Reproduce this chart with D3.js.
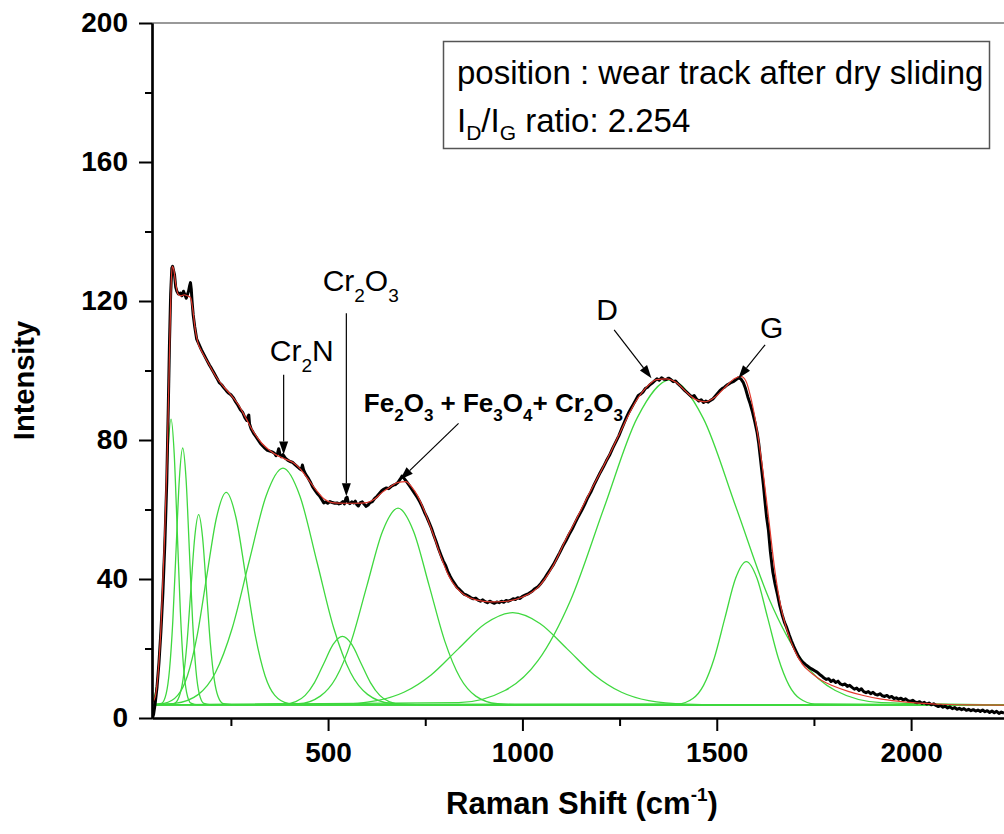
<!DOCTYPE html>
<html>
<head>
<meta charset="utf-8">
<script src="https://cdn.jsdelivr.net/npm/d3@7"></script>
<style>
  body { margin: 0; background: #fff; }
  text { font-family: Arial, "Liberation Sans", sans-serif; }
</style>
</head>
<body>
<svg id="chart"></svg>
<script>
// measured spectrum (Raman shift, intensity)
const shift = [48,51,55,60,65,70,75,80,85,89,92,95,98,100,102,105,108,111,115,120,124,128,131,135,138,141,144,146,148,150,
  153,157,162,168,174,181,188,195,200,207,214,220,226,232,238,244,250,256,262,268,274,280,286,291,294,296,298,302,308,314,
  320,326,332,338,344,350,356,362,366,370,373,376,380,384,390,396,402,408,414,420,426,431,434,437,442,448,454,460,466,472,
  478,484,489,494,499,505,511,517,523,528,533,538,542,546,549,552,556,561,566,570,574,578,583,588,593,598,603,608,614,620,
  626,632,638,644,650,656,662,668,674,680,686,690,694,698,702,707,712,718,724,730,736,742,748,754,760,766,772,778,784,790,
  796,802,808,814,820,826,832,838,844,850,856,862,868,874,880,886,892,898,904,910,916,922,928,934,940,946,952,958,964,970,
  976,982,988,994,1000,1008,1016,1024,1032,1040,1048,1056,1064,1072,1080,1088,1096,1104,1112,1120,1128,1136,1144,1152,1160,1168,1176,1184,1192,1200,
  1208,1216,1224,1232,1240,1248,1256,1262,1268,1274,1280,1286,1292,1298,1304,1310,1316,1322,1328,1334,1340,1346,1352,1358,1364,1370,1376,1382,1388,1394,
  1400,1406,1412,1418,1424,1430,1436,1442,1448,1454,1460,1466,1472,1478,1484,1490,1496,1502,1508,1514,1520,1526,1532,1538,1544,1550,1556,1562,1568,1574,
  1580,1586,1592,1598,1604,1608,1612,1616,1620,1624,1628,1633,1638,1644,1650,1656,1662,1668,1674,1680,1686,1692,1698,1704,1710,1716,1722,1728,1734,1740,
  1746,1752,1758,1764,1770,1776,1782,1788,1794,1800,1806,1812,1818,1824,1830,1836,1842,1848,1854,1860,1866,1872,1878,1884,1890,1896,1902,1908,1914,1920,
  1926,1932,1938,1944,1950,1956,1962,1968,1974,1980,1986,1992,1998,2004,2010,2016,2022,2028,2034,2040,2046,2052,2058,2064,2070,2076,2082,2088,2094,2100,
  2106,2112,2118,2124,2130,2136,2142,2148,2154,2160,2166,2172,2178,2184,2190,2196,2202,2208,2214,2220,2226,2232,2239];
const intensity = [0,1,4,9,16,25,36,50,68,90,108,122,129.5,130,129,127.5,124,122.8,122,122.3,121.5,122.8,122,120.8,121.8,122.8,124.5,125.3,123.5,120,
  116,112.5,109,107.5,106,104.5,103,101.5,100.6,99.2,97.8,96.5,95.9,95,94.2,93.5,93,92.2,91,90,88.8,88,86.4,85.6,86.8,87.2,84.6,83.2,82,81,
  80,79,78.3,77.6,77,76.8,76.6,76.2,75.5,76.2,77.5,76,75.2,75.8,74.8,74.2,73.8,73.6,73,72.4,71.8,71.4,72.8,71.4,70.2,69.2,68,66.6,65.6,64.6,
  63.9,62.8,61.9,62.2,61.8,62.3,62,61.8,61.9,61.6,61.8,62.3,61.6,63.3,63.5,62,61.7,62.2,61.9,62.4,61.4,61,62,62.2,61.5,60.9,61.3,62,62.3,63.2,
  63.8,64.6,65.4,65.9,66.2,66,66.6,67,67.2,67.8,68.8,69.6,69.2,68.6,68,67.2,66.4,65.4,64.4,63.4,62.2,60.8,59.2,57.8,56.2,54.6,52.6,50.8,48.8,47,
  45.3,44,42.2,40.8,39.6,38.6,37.6,37,36.3,35.6,35.4,35,34.6,34.3,34.5,33.9,33.6,34,33.5,33.2,33.6,33.3,33,33.4,33.2,33.6,33.3,33.8,33.6,33.9,
  34.3,34.1,34.6,34.4,35,35.4,35.8,36.4,37.2,37.8,38.8,40,41.4,42.8,44.2,45.9,47.6,49.4,51,52.8,54.4,56.2,58,59.6,61.4,63.4,65,67,68.8,70.6,
  72.2,74,75.6,77.6,79.4,81.2,83.4,85,86.6,88,89.2,90.4,91.6,92.8,93.2,93.8,94.8,95.2,95.9,96.4,97,97.6,97.2,97.9,97.5,97.4,97.8,97.4,96.8,97,
  96.2,95.6,94.9,94.2,93.6,93,92.4,92.8,91.8,91.2,91.6,90.8,91.2,90.9,91.4,91.8,92.6,93.4,94.2,94.8,95.2,95.8,96.2,96.6,96.9,97.4,97.9,97.6,96.6,94.8,
  92.4,90.4,88,85.2,82,79,75,71,67,62.4,58,54,47.8,42.2,38.6,35.6,32.4,29.8,27.6,26,24,22.2,20.6,19.2,17.8,16.8,16,15.4,14.9,14.4,
  14,13.6,13.2,12.6,12.1,11.5,11.1,11.3,10.5,10.9,10.2,10.6,9.8,9.5,9.8,9.1,9.4,8.8,8.3,8.6,7.9,8.4,7.6,7.3,7.6,7,7.4,6.8,6.6,7,
  6.4,6.2,6.5,5.9,6.2,5.6,5.8,5.4,5.7,5.2,5.5,5,4.8,5.1,4.6,4.4,4.7,4.2,4.5,4,4.3,3.8,4.1,3.6,3.3,3.6,3.1,3.4,2.9,3.2,
  2.7,3,2.5,2.8,2.4,2.7,2.2,2.5,2.1,2.4,2,2.3,1.9,2.3,1.8,2.1,1.6,2,1.5,1.9,1.3,1.7,1.4];

// cumulative fit (red)
const fitShift = [47,55,62,70,78,86,92,96,99,103,108,114,122,130,138,146,152,158,165,175,190,210,230,250,270,290,310,330,350,370,
  390,410,430,450,470,490,510,540,570,600,620,640,660,680,700,715,730,750,770,790,810,830,850,880,920,960,1000,1040,1080,1110,
  1140,1170,1200,1230,1260,1290,1320,1345,1370,1395,1420,1445,1470,1495,1520,1545,1562,1575,1590,1605,1620,1635,1650,1665,1680,1700,1720,1745,1770,1800,
  1840,1880,1920,1970,2020,2080,2150,2239];
const fitIntensity = [4.4,6,12,26,48,75,105,124,130,129,125,122,121.5,121.8,121.5,121,117.5,112,108,105.5,102.5,98.5,95.5,93,90,86,82,79,77,75.5,
  74.5,73.5,71.5,68.5,65.5,63,62,61.8,61.8,62,63,65,66.5,67.8,68,66.5,64,59,53,46.5,41,37.5,35.5,34,33.4,33.6,34.8,37.6,44,51,
  57.5,64.2,70.6,77.2,84.2,90.8,95.3,97.4,97.6,96.6,94,91.7,91,92.3,95,97.6,98.3,97,91,82,70,56,42,32,25.5,19.5,15.5,12.8,10.8,9.2,
  7.6,6.4,5.5,4.8,4.3,3.95,3.75,3.7];

// fitted components (green), read as [shift, intensity] outlines
const baseline = [[47, 3.8], [2239, 3.8]];
const p1 = [[47,4.6],[56,7.4],[64,14.9],[72,30.5],[80,53.7],[88,76.3],[96,86],[104,76.3],[112,53.7],[120,30.5],[128,14.9],[136,7.4],[147,4.3],[165,3.8],[2239,3.8]];
const p2 = [[47,3.8],[71.6,4.2],[83.5,7],[92,13.8],[100.5,27.8],[109,48.6],[117.5,69],[126,77.7],[134.5,69],[143,48.6],[151.5,27.8],[160,13.8],[168.5,7],[180.4,4.2],[200,3.8],[2239,3.8]];
const p3 = [[47,3.8],[103,4.1],[117,6.2],[127,11.2],[137,21.6],[147,37],[157,52.1],[167,58.5],[177,52.1],[187,37],[197,21.6],[207,11.2],[217,6.2],[231,4.1],[260,3.8],[2239,3.8]];
const p4 = [[47,3.85],[78,4.2],[113,6.5],[138,12.1],[163,23.6],[188,40.9],[213,57.7],[238,64.9],[263,57.7],[288,40.9],[313,23.6],[338,12.1],[363,6.5],[398,4.2],[440,3.8],[2239,3.8]];
const p5 = [[47,3.83],[105.6,4.2],[166.5,6.8],[210,13],[253.5,25.9],[297,45.1],[340.5,63.9],[384,71.9],[427.5,63.9],[471,45.1],[514.5,25.9],[558,13],[601.5,6.8],[662.4,4.2],[750,3.8],[2239,3.8]];
const p6 = [[47,3.8],[383.4,3.9],[417,4.7],[441,6.5],[465,10.2],[489,15.7],[513,21.2],[537,23.5],[561,21.2],[585,15.7],[609,10.2],[633,6.5],[657,4.7],[690.6,3.9],[760,3.8],[2239,3.8]];
const p7 = [[47,3.8],[424,4.1],[480,6.3],[520,11.5],[560,22.2],[600,38.1],[640,53.7],[680,60.4],[720,53.7],[760,38.1],[800,22.2],[840,11.5],[880,6.3],[936,4.1],[1000,3.8],[2239,3.8]];
const p8 = [[47,3.8],[527,3.96],[625,5],[695,7.4],[765,12.4],[835,19.9],[905,27.2],[975,30.3],[1045,27.2],[1115,19.9],[1185,12.4],[1255,7.4],[1325,5],[1423,3.96],[1500,3.8],[2239,3.8]];
const pD = [[47,3.8],[836,4.4],[955,7.9],[1040,16.5],[1125,34.2],[1210,60.5],[1295,86.3],[1380,97.3],[1465,86.3],[1550,60.5],[1635,34.2],[1720,16.5],[1805,7.9],[1924,4.4],[2239,3.8]];
const pG = [[47,3.8],[1400,4.05],[1438.5,5.6],[1466,9.4],[1493.5,17.2],[1521,28.8],[1548.5,40.2],[1576,45],[1603.5,40.2],[1631,28.8],[1658.5,17.2],[1686,9.4],[1713.5,5.6],[1752,4.05],[2239,3.8]];

const yTicks = [0, 40, 80, 120, 160, 200];
const yMinor = [20, 60, 100, 140, 180];
const xTicks = [500, 1000, 1500, 2000];
const xMinor = [250, 750, 1250, 1750];

// annotations: label anchor (shift, intensity) and arrow tail -> tip
const notes = [
  { parts: [["Cr", 0], ["2", 1], ["N", 0]], x: 350, y: 102.6, bold: false, tail: [385.7, 98.8], tip: [385.7, 75.8] },
  { parts: [["Cr", 0], ["2", 1], ["O", 0], ["3", 1]], x: 486, y: 122.8, bold: false, tail: [547, 116.5], tip: [547, 63.8] },
  { parts: [["Fe", 0], ["2", 1], ["O", 0], ["3", 1], [" + Fe", 0], ["3", 1], ["O", 0], ["4", 1], ["+ Cr", 0], ["2", 1], ["O", 0], ["3", 1]],
    x: 592, y: 88, bold: true, tail: [835.7, 84.8], tip: [685.8, 68.6] },
  { parts: [["D", 0]], x: 1190, y: 114.6, bold: false, tail: [1236, 111.7], tip: [1332, 97.8] },
  { parts: [["G", 0]], x: 1611.5, y: 109.4, bold: false, tail: [1624.3, 107.4], tip: [1555.7, 97.8] }
];

const width = 1004;
const height = 834;
const margin = { top: 23, right: 0, bottom: 116, left: 152 };

const svg = d3.select("#chart")
  .attr("width", width)
  .attr("height", height);

const x = d3.scaleLinear()
  .domain([47, 2239])
  .range([margin.left, width - margin.right]);
const y = d3.scaleLinear()
  .domain([0, 200])
  .range([height - margin.bottom, margin.top]);

// clip for the plot area
svg.append("clipPath").attr("id", "plot")
  .append("rect")
  .attr("x", margin.left).attr("y", margin.top - 2)
  .attr("width", width - margin.left).attr("height", height - margin.bottom - margin.top + 6);

const line = d3.line()
  .x(d => x(d[0]))
  .y(d => y(d[1]))
  .curve(d3.curveMonotoneX);

const g = svg.append("g").attr("clip-path", "url(#plot)");

// green components
[baseline, p1, p2, p3, p4, p5, p6, p7, p8, pD, pG].forEach(function(p) {
  g.append("path")
    .datum(p)
    .attr("fill", "none")
    .attr("stroke", "#3fd83f")
    .attr("stroke-width", 1.3)
    .attr("d", line);
});

// measured data
g.append("path")
  .datum(d3.zip(shift, intensity))
  .attr("fill", "none")
  .attr("stroke", "#000")
  .attr("stroke-width", 3)
  .attr("stroke-linejoin", "round")
  .attr("d", d3.line().x(d => x(d[0])).y(d => y(d[1])));

// fit
g.append("path")
  .datum(d3.zip(fitShift, fitIntensity))
  .attr("fill", "none")
  .attr("stroke", "#e23a2e")
  .attr("stroke-width", 1.2)
  .attr("d", line);

// top frame line
svg.append("line")
  .attr("x1", margin.left).attr("x2", width)
  .attr("y1", y(200)).attr("y2", y(200))
  .attr("stroke", "#777")
  .attr("stroke-width", 1.5);

// axes
svg.append("g")
  .attr("transform", `translate(${margin.left},0)`)
  .call(d3.axisLeft(y).tickValues(yTicks).tickSize(13).tickPadding(11).tickSizeOuter(0));
svg.append("g")
  .attr("transform", `translate(${margin.left},0)`)
  .call(d3.axisLeft(y).tickValues(yMinor).tickSize(7).tickFormat("").tickSizeOuter(0));

svg.append("g")
  .attr("transform", `translate(0,${y(0)})`)
  .call(d3.axisBottom(x).tickValues(xTicks).tickFormat(d3.format("d")).tickSize(13).tickPadding(11).tickSizeOuter(0));
svg.append("g")
  .attr("transform", `translate(0,${y(0)})`)
  .call(d3.axisBottom(x).tickValues(xMinor).tickSize(8).tickFormat("").tickSizeOuter(0));

svg.selectAll(".domain").attr("stroke", "#000").attr("stroke-width", 2.2);
svg.selectAll(".tick line").attr("stroke", "#000").attr("stroke-width", 2);
svg.selectAll(".tick text")
  .attr("font-family", "Arial, 'Liberation Sans', sans-serif")
  .attr("font-size", 28)
  .attr("font-weight", "bold")
  .attr("fill", "#000");

// axis titles
svg.append("text")
  .attr("transform", `translate(34,${(y(0) + y(200)) / 2 + 10}) rotate(-90)`)
  .attr("text-anchor", "middle")
  .attr("font-size", 29)
  .attr("font-weight", "bold")
  .text("Intensity");

const xt = svg.append("text")
  .attr("x", 582)
  .attr("y", 814)
  .attr("text-anchor", "middle")
  .attr("font-size", 31)
  .attr("font-weight", "bold");
xt.append("tspan").text("Raman Shift (cm");
xt.append("tspan").attr("font-size", 19).attr("dy", -13).text("-1");
xt.append("tspan").attr("dy", 13).text(")");

// info box
svg.append("rect")
  .attr("x", 443.5).attr("y", 41.5)
  .attr("width", 546).attr("height", 107)
  .attr("fill", "#fff")
  .attr("stroke", "#555")
  .attr("stroke-width", 1.5);
svg.append("text")
  .attr("x", 457).attr("y", 84)
  .attr("font-size", 33)
  .text("position : wear track after dry sliding");
const ratio = svg.append("text").attr("x", 457).attr("y", 132).attr("font-size", 33);
ratio.append("tspan").text("I");
ratio.append("tspan").attr("font-size", 21).attr("dy", 8).text("D");
ratio.append("tspan").attr("dy", -8).text("/I");
ratio.append("tspan").attr("font-size", 21).attr("dy", 8).text("G");
ratio.append("tspan").attr("dy", -8).text(" ratio: 2.254");

// peak labels and arrows
notes.forEach(function(n) {
  const size = n.bold ? 26 : 30;
  const sub = n.bold ? 17 : 19;
  const t = svg.append("text")
    .attr("x", x(n.x)).attr("y", y(n.y))
    .attr("font-size", size)
    .attr("font-weight", n.bold ? "bold" : "normal");
  let low = 0;
  n.parts.forEach(function(p) {
    const s = t.append("tspan").text(p[0]);
    const shiftY = p[1] ? (n.bold ? 9 : 11) : 0;
    s.attr("dy", shiftY - low);
    if (p[1]) s.attr("font-size", sub);
    low = shiftY;
  });

  const x1 = x(n.tail[0]), y1 = y(n.tail[1]);
  const x2 = x(n.tip[0]), y2 = y(n.tip[1]);
  const ang = Math.atan2(y2 - y1, x2 - x1);
  const len = 13, half = 4.5;
  const bx = x2 - len * Math.cos(ang), by = y2 - len * Math.sin(ang);
  svg.append("line")
    .attr("x1", x1).attr("y1", y1).attr("x2", bx).attr("y2", by)
    .attr("stroke", "#000").attr("stroke-width", 1.2);
  svg.append("path")
    .attr("d", `M${x2},${y2}L${bx - half * Math.sin(ang)},${by + half * Math.cos(ang)}L${bx + half * Math.sin(ang)},${by - half * Math.cos(ang)}Z`)
    .attr("fill", "#000");
});
</script>
</body>
</html>
